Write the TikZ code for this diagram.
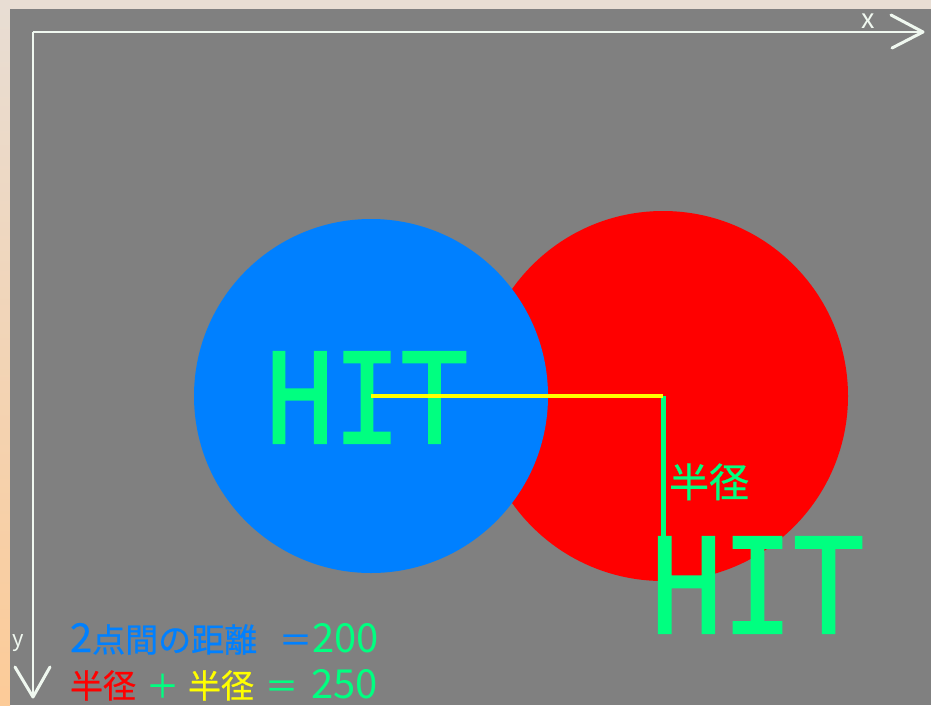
\documentclass[tikz,border=0pt]{standalone}
\usepackage{graphicx}
\usepackage{fontspec}
\setmainfont{Noto Sans CJK JP}
\newfontfamily\hitfont[FakeBold=1.6]{DejaVu Sans Mono}
\newfontfamily\cjkbold[FakeBold=0.6]{Noto Sans CJK JP}
\definecolor{bg}{HTML}{808080}
\definecolor{ballblue}{HTML}{0080FF}
\definecolor{ballred}{HTML}{FF0000}
\definecolor{hitgreen}{HTML}{00FF80}
\definecolor{lineyellow}{HTML}{FFFF00}
\definecolor{axiswhite}{HTML}{F0F8F0}
\definecolor{frametop}{HTML}{E8DDD3}
\definecolor{framebot}{HTML}{FCCB98}
\newcommand{\bigdig}[1]{{\fontsize{40pt}{40pt}\selectfont #1}}
\begin{document}
\begin{tikzpicture}[x=1pt,y=-1pt,
  axisline/.style={draw=axiswhite, line width=2.2pt},
  chevron/.style={draw=axiswhite, line width=3pt, line cap=round, line join=round},
  ball/.style={circle, inner sep=0pt, outer sep=0pt, draw=none},
  lbl/.style={inner sep=0pt, outer sep=0pt, anchor=base west},
  cjk/.style={lbl, font=\cjkbold\fontsize{33pt}{33pt}\selectfont},
  hit/.style={lbl, text=hitgreen},
  radiusline/.style={draw=hitgreen, line width=5pt},
  distline/.style={draw=lineyellow, line width=4.5pt}]
\useasboundingbox (0,0) rectangle (931,705);
% frame
\fill[frametop] (0,0) rectangle (931,9);
\shade[top color=frametop, bottom color=framebot] (0,9) rectangle (10,705);
\fill[bg] (10,9) rectangle (931,705);
% axes
\coordinate (origin) at (33,32);
\coordinate (xend) at (923,32);
\coordinate (yend) at (33,697);
\draw[axisline] (origin) -- (xend);
\draw[axisline] (origin) -- (yend);
\coordinate (xa1) at (891,15);
\coordinate (xa2) at (892,48);
\coordinate (ya1) at (15,667);
\coordinate (ya2) at (50,667);
\draw[chevron] (xa1) -- (xend) -- (xa2);
\draw[chevron] (ya1) -- (yend) -- (ya2);
\node[inner sep=0pt, anchor=base, text=axiswhite, font=\fontsize{27pt}{27pt}\selectfont] (xlab) at (868,28) {x};
\node[inner sep=0pt, anchor=base, text=axiswhite, font=\fontsize{22pt}{22pt}\selectfont] (ylab) at (18,646) {y};
% balls
\node[ball, fill=ballred, minimum size=370pt] (red) at (663,396) {};
\node[ball, fill=ballblue, minimum size=354pt] (blue) at (371,396) {};
% HIT on the blue ball
\node[hit] (hit1) at (266,443) {\resizebox{202pt}{91pt}{\hitfont HIT}};
% radius and distance lines
\draw[radiusline] (red.center) -- (red.south);
\draw[distline] (blue.center) -- (red.center);
\node[lbl, text=hitgreen, font=\cjkbold\fontsize{40pt}{40pt}\selectfont] (rlab) at (669,497) {半径};
% HIT under the red ball
\node[hit] (hit2) at (651,633) {\resizebox{213pt}{96pt}{\hitfont HIT}};
% bottom texts
\node[cjk, text=ballblue] (d1) at (70,652) {\bigdig{2}点間の距離};
\node[cjk, text=ballblue] (d2) at (279,652) {＝};
\node[lbl, text=hitgreen, font=\fontsize{40pt}{40pt}\selectfont] (d3) at (312,652) {200};
\node[cjk, text=ballred] (s1) at (70,698) {半径};
\node[cjk, text=hitgreen] (s2) at (146,698) {＋};
\node[cjk, text=lineyellow] (s3) at (188,698) {半径};
\node[cjk, text=hitgreen] (s4) at (265,698) {＝};
\node[lbl, text=hitgreen, font=\fontsize{40pt}{40pt}\selectfont] (s5) at (311,698) {250};
\end{tikzpicture}
\end{document}
